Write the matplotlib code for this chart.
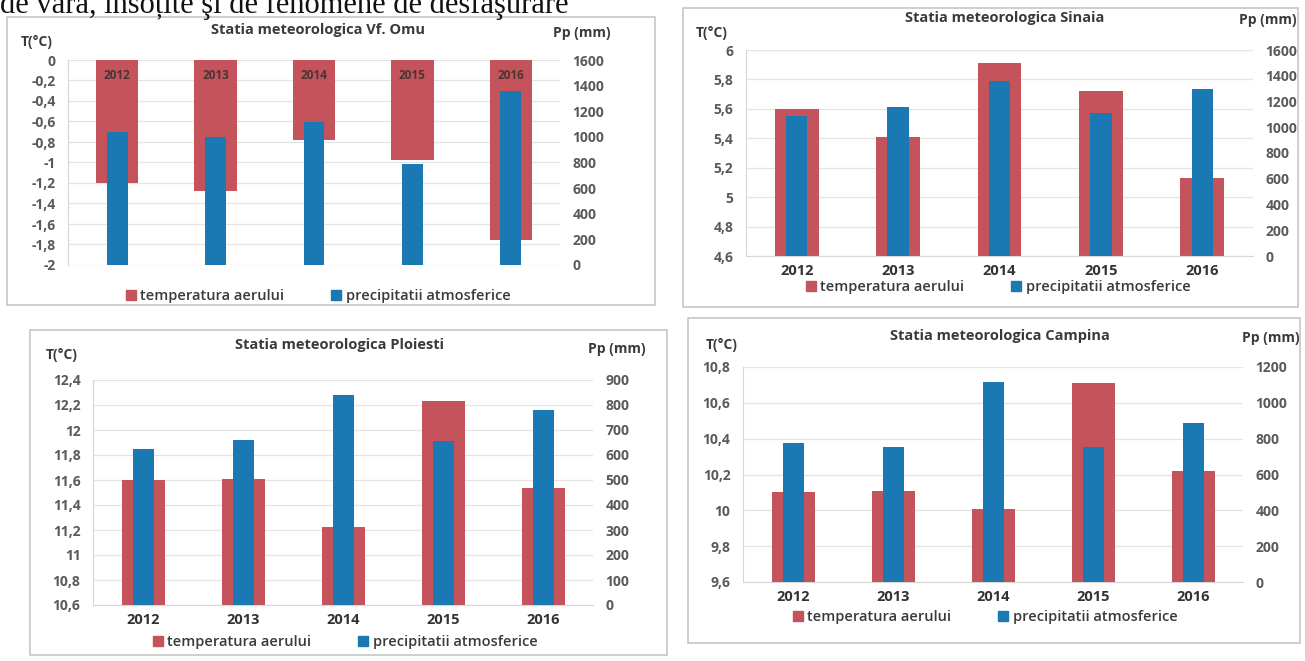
"""Four weather-station panels: air temperature (wide red bars) vs. precipitation (narrow blue bars)."""

import matplotlib

matplotlib.use("Agg")
import matplotlib.pyplot as plt  # noqa: E402
import matplotlib.ticker as mticker  # noqa: E402
from matplotlib.patches import Patch, Rectangle  # noqa: E402

W, H = 1305, 661

years = ["2012", "2013", "2014", "2015", "2016"]

omu_temp = [-1.2, -1.28, -0.78, -0.98, -1.76]
omu_prec = [1040, 1000, 1120, 790, 1360]

sinaia_temp = [5.6, 5.41, 5.91, 5.72, 5.13]
sinaia_prec = [1090, 1160, 1360, 1110, 1300]

ploiesti_temp = [11.6, 11.61, 11.22, 12.23, 11.54]
ploiesti_prec = [625, 660, 840, 655, 780]

campina_temp = [10.1, 10.11, 10.01, 10.71, 10.22]
campina_prec = [775, 755, 1115, 755, 890]

_RED = "#c4535b"
_BLUE = "#1a78b3"
_INK = "#3a3a3a"
_TICK = "#5a5a5a"
_GRID = "#e4e4e4"
_AXIS = "#d6d6d6"
_FRAME = "#c6c6c6"
_FONT = "Open Sans"

fig = plt.figure(figsize=(W / 100, H / 100), dpi=100)
fig.patch.set_facecolor("white")


def px_box(x0, y0, x1, y1):
    """Pixel box (top-left origin) -> figure fraction [left, bottom, width, height]."""
    return [x0 / W, 1 - y1 / H, (x1 - x0) / W, (y1 - y0) / H]


def comma(v, _pos=None):
    return f"{round(v, 2):g}".replace(".", ",")


def panel(frame, plot, title, title_xy, t_xy, p_xy, legend_xy, temp, prec,
          tlim, tstep, plim, pstep, hanging=False):
    fx0, fy0, fx1, fy1 = frame
    fig.patches.append(Rectangle((fx0 / W, 1 - fy1 / H), (fx1 - fx0) / W, (fy1 - fy0) / H,
                                 transform=fig.transFigure, fill=False,
                                 edgecolor=_FRAME, linewidth=1.2))
    ax = fig.add_axes(px_box(*plot))
    ax2 = ax.twinx()
    xs = range(len(years))

    if hanging:
        # Excel draws negative values down from the 0 category axis at the top
        ax.bar(xs, temp, width=0.43, color=_RED, zorder=2)
        for x, yr in zip(xs, years):
            ax.text(x, -0.15, yr, ha="center", va="center", fontsize=8.5,
                    fontweight="bold", color="#4a3535", family=_FONT, zorder=3)
        ax.set_xticks([])
    else:
        ax.bar(xs, [t - tlim[0] for t in temp], bottom=tlim[0], width=0.43,
               color=_RED, zorder=2)
        ax.set_xticks(list(xs))
        ax.set_xticklabels(years)
    ax2.bar(xs, prec, width=0.21, color=_BLUE, zorder=3)

    ax.set_xlim(-0.5, len(years) - 0.5)
    ax.set_ylim(*tlim)
    ax2.set_ylim(*plim)
    n_t = round((tlim[1] - tlim[0]) / tstep)
    ax.set_yticks([tlim[0] + i * tstep for i in range(n_t + 1)])
    ax.yaxis.set_major_formatter(mticker.FuncFormatter(comma))
    ax2.set_yticks(list(range(plim[0], plim[1] + 1, pstep)))
    ax.grid(axis="y", color=_GRID, linewidth=0.9)
    ax.set_axisbelow(True)

    for a in (ax, ax2):
        for s in a.spines.values():
            s.set_visible(False)
        a.tick_params(length=0, labelsize=10, colors=_TICK)
        for lab in a.get_yticklabels():
            lab.set_family(_FONT)
            lab.set_fontweight("bold")
    ax.spines["left"].set_visible(True)
    ax.spines["left"].set_color(_AXIS)
    if not hanging:
        ax.spines["bottom"].set_visible(True)
        ax.spines["bottom"].set_color(_AXIS)
    ax.tick_params(axis="y", pad=9)
    ax2.tick_params(axis="y", pad=9)
    ax.tick_params(axis="x", pad=6, labelsize=10.5, colors="#333333")
    for lab in ax.get_xticklabels():
        lab.set_family(_FONT)
        lab.set_fontweight("bold")

    fig.text(title_xy[0] / W, 1 - title_xy[1] / H, title, ha="center", va="center",
             fontsize=10.5, fontweight="bold", color=_INK, family=_FONT)
    fig.text(t_xy[0] / W, 1 - t_xy[1] / H, "T(°C)", ha="center", va="center",
             fontsize=10, fontweight="bold", color=_INK, family=_FONT)
    fig.text(p_xy[0] / W, 1 - p_xy[1] / H, "Pp (mm)", ha="center", va="center",
             fontsize=10, fontweight="bold", color=_INK, family=_FONT)

    handles = [Patch(color=_RED, label="temperatura aerului"),
               Patch(color=_BLUE, label="precipitatii atmosferice")]
    leg = fig.legend(handles=handles, loc="center", ncol=2, frameon=False,
                     bbox_to_anchor=(legend_xy[0] / W, 1 - legend_xy[1] / H),
                     handlelength=0.7, handleheight=0.7,
                     handletextpad=0.3, columnspacing=3.2,
                     prop={"family": _FONT, "weight": "semibold", "size": 10.5})
    for t in leg.get_texts():
        t.set_color(_INK)


panel((7, 17, 655, 305), (68, 60, 560, 265), "Statia meteorologica Vf. Omu",
      (318, 30), (37, 42), (582, 33), (318, 296), omu_temp, omu_prec,
      (-2, 0), 0.2, (0, 1600), 200, hanging=True)

panel((683, 8, 1298, 307), (746, 50, 1253, 256), "Statia meteorologica Sinaia",
      (1005, 18), (712, 33), (1268, 20), (998, 287), sinaia_temp, sinaia_prec,
      (4.6, 6.0), 0.2, (0, 1600), 200)

panel((30, 330, 667, 655), (93, 380, 593, 605), "Statia meteorologica Ploiesti",
      (340, 345), (62, 355), (617, 349), (345, 642), ploiesti_temp, ploiesti_prec,
      (10.6, 12.4), 0.2, (0, 900), 100)

panel((688, 318, 1300, 643), (743, 367, 1243, 582), "Statia meteorologica Campina",
      (1000, 336), (722, 345), (1271, 338), (985, 617), campina_temp, campina_prec,
      (9.6, 10.8), 0.2, (0, 1200), 200)

# Scanned page: the line of body text above the charts is cut off at the top edge
fig.text(0.0, 1 - 13 / H, "de vară, însoțite şi de fenomene de desfăşurare",
         ha="left", va="baseline", fontsize=22, color="#111111", family="Liberation Serif")

fig.savefig("out.png", dpi=100, facecolor="white")
plt.close(fig)
